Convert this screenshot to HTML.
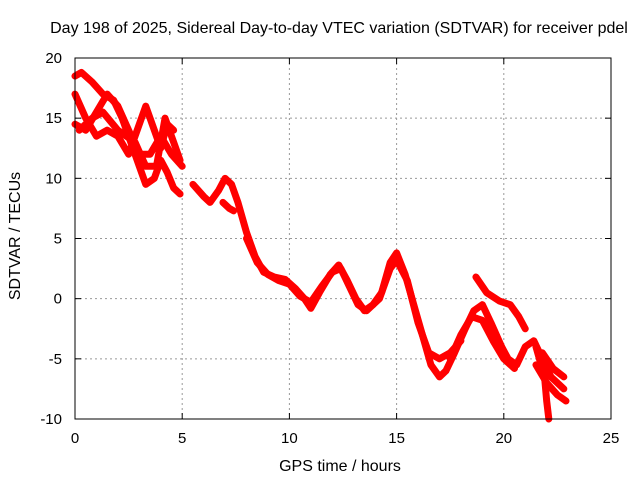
<!DOCTYPE html>
<html><head><meta charset="utf-8"><style>
body{margin:0;background:#fff;}
svg{display:block;font-family:"Liberation Sans",sans-serif;}
</style></head><body>
<svg id="c" width="640" height="480">
<rect width="640" height="480" fill="#fff"/>
<text x="339" y="33" font-size="16" text-anchor="middle">Day 198 of 2025, Sidereal Day-to-day VTEC variation (SDTVAR) for receiver pdel</text>
<text x="340" y="471" font-size="16" text-anchor="middle">GPS time / hours</text>
<text transform="translate(20,236) rotate(-90)" font-size="16" text-anchor="middle">SDTVAR / TECUs</text>
<g id="grid"></g>
<g id="ticks"></g>
<g id="series"></g>
<rect x="75" y="58" width="536" height="361" fill="none" stroke="#000" stroke-width="1"/>
</svg>
<script>
const xTicks=[0,5,10,15,20,25];
const yTicks=[-10,-5,0,5,10,15,20];
const trackA=[[0,18.5],[0.3,18.8],[0.8,18],[1.3,17],[1.8,16.5],[2.2,15],[2.6,13],[3.0,11],[3.3,9.5],[3.7,10],[4.0,11.5],[4.3,10.5],[4.6,9.2],[4.9,8.7]];
const trackB=[[0,14.5],[0.5,14],[1,15.5],[1.5,17],[2,16],[2.5,14],[3,12],[3.5,12],[4,13.5],[4.5,12],[5,11]];
const trackC=[[0,17],[0.5,15],[1,13.5],[1.5,14],[2,13.5],[2.5,12],[3,14.5],[3.3,16],[3.7,14],[4,12.5],[4.3,14.5],[4.6,14]];
const trackD=[[0.2,14],[0.8,15],[1.3,15.5],[2.0,14],[2.8,13],[3.3,11],[3.8,11],[4.2,15],[4.6,13],[4.9,11.5]];
const trackMain=[[5.5,9.5],[6.0,8.5],[6.3,8],[6.7,9],[7.0,10],[7.3,9.5],[7.6,8],[8.0,5.5],[8.4,3.5],[8.8,2.2],[9.3,1.8],[9.8,1.6],[10.3,0.8],[10.7,0],[11.0,-0.8],[11.4,0.5],[11.9,2.0],[12.3,2.8],[12.7,1.5],[13.1,0],[13.5,-1],[13.9,-0.5],[14.3,0.5],[14.7,3],[15.0,3.8],[15.4,2],[15.8,-0.5],[16.2,-3],[16.6,-5.5],[17.0,-6.5],[17.3,-6],[17.7,-4.5],[18.2,-2.5],[18.6,-1],[19.0,-0.5],[19.4,-2],[19.9,-4],[20.2,-5],[20.6,-5.5],[21.0,-4],[21.4,-3.5],[21.8,-5],[22.2,-6.5],[22.8,-7.5]];
const trackMain2=[[8.0,5],[8.5,3],[9.0,2],[9.5,1.5],[10.0,1.2],[10.5,0.2],[11.0,-0.3],[11.5,1],[12.0,2.2],[12.4,2.5],[12.8,1],[13.2,-0.5],[13.6,-1],[14.2,0],[14.7,2.5],[15.0,3.2],[15.5,1.5],[16.0,-2],[16.5,-4.5],[17.0,-5],[17.5,-4.5],[18.0,-3.5]];
const trackE=[[18.7,1.8],[19.2,0.5],[19.8,-0.2],[20.3,-0.5],[20.7,-1.5],[21,-2.5]];
const trackF=[[17.5,-5],[18,-3],[18.5,-1.5],[19,-1.8],[19.5,-3.5],[20,-5],[20.5,-5.8]];
const trackG=[[21.5,-4],[21.9,-6.5],[22.0,-8.5],[22.1,-10]];
const trackH=[[21.8,-4.5],[22.3,-5.8],[22.8,-6.5]];
const trackI=[[21.5,-5.5],[22,-7],[22.5,-8],[22.9,-8.5]];
const trackJ=[[6.9,8],[7.2,7.5],[7.4,7.3]];
const allTracks=[trackA,trackB,trackC,trackD,trackMain,trackMain2,trackE,trackF,trackG,trackH,trackI,trackJ];
const NS="http://www.w3.org/2000/svg";
const X0=75,X1=611,Y0=419,Y1=58;
function sx(t){return X0+(t-0)/(25-0)*(X1-X0);}
function sy(v){return Y0-(v+10)/(30)*(Y0-Y1);}
const grid=document.getElementById('grid'),ticks=document.getElementById('ticks'),ser=document.getElementById('series');
function mk(tag,a,p){const e=document.createElementNS(NS,tag);for(const k in a)e.setAttribute(k,a[k]);p.appendChild(e);return e;}
xTicks.forEach(t=>{const x=sx(t);
 if(t>0&&t<25){const g=mk('line',{x1:x,x2:x,y1:Y1,y2:Y0,stroke:'#999','stroke-dasharray':'2,3','stroke-width':1},grid);
 }
 mk('line',{x1:x,x2:x,y1:Y0,y2:Y0-6,stroke:'#000'},ticks);mk('line',{x1:x,x2:x,y1:Y1,y2:Y1+6,stroke:'#000'},ticks);
 const l=mk('text',{x:x,y:443,'font-size':15,'text-anchor':'middle'},ticks);l.textContent=t;
 });
yTicks.forEach(v=>{const y=sy(v);
 if(v>-10&&v<20){const g=mk('line',{x1:X0,x2:X1,y1:y,y2:y,stroke:'#999','stroke-dasharray':'2,3','stroke-width':1},grid);
 }
 mk('line',{x1:X0,x2:X0+6,y1:y,y2:y,stroke:'#000'},ticks);mk('line',{x1:X1,x2:X1-6,y1:y,y2:y,stroke:'#000'},ticks);
 const l=mk('text',{x:62,y:y+5,'font-size':15,'text-anchor':'end'},ticks);l.textContent=v;
 });
allTracks.forEach(tr=>{
 const p=mk('polyline',{points:tr.map(d=>sx(d[0])+','+sy(d[1])).join(' '),fill:'none',stroke:'#f00','stroke-width':7,'stroke-linejoin':'round','stroke-linecap':'round'},ser);
 
 
});
</script>
</body></html>
